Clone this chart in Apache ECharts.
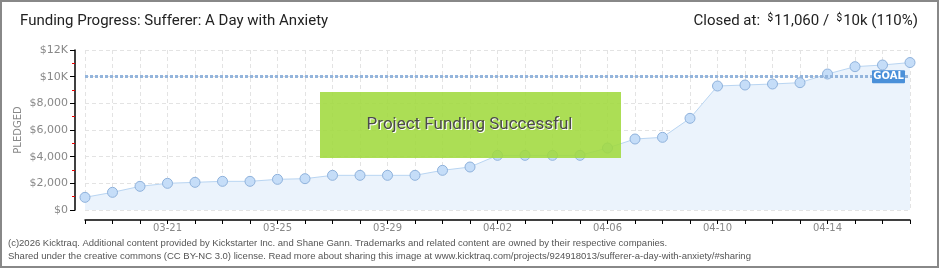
<!DOCTYPE html>
<html><head><meta charset="utf-8">
<script src="https://cdn.jsdelivr.net/npm/echarts@6/dist/echarts.min.js"></script>
<style>html,body{margin:0;padding:0;background:#fff}#c{width:940px;height:270px}</style>
</head><body><div id="c"></div>
<script>
// ---- data ----
const dates = ['03-18','03-19','03-20','03-21','03-22','03-23','03-24','03-25','03-26','03-27','03-28','03-29','03-30','03-31',
  '04-01','04-02','04-03','04-04','04-05','04-06','04-07','04-08','04-09','04-10','04-11','04-12','04-13','04-14','04-15','04-16','04-17'];
const pledged = [950,1325,1775,2000,2075,2150,2150,2300,2350,2600,2600,2600,2600,2975,
  3225,4100,4100,4100,4100,4650,5325,5450,6875,9300,9375,9450,9550,10200,10750,10875,11060];
const goal = 10000;
const yMax = 12000;
const yStep = 2000;
const yName = 'PLEDGED';
const titleText = 'Funding Progress: Sufferer: A Day with Anxiety';
const footer1 = '(c)2026 Kicktraq. Additional content provided by Kickstarter Inc. and Shane Gann. Trademarks and related content are owned by their respective companies.';
const footer2 = 'Shared under the creative commons (CC BY-NC 3.0) license. Read more about sharing this image at www.kicktraq.com/projects/924918013/sufferer-a-day-with-anxiety/#sharing';

const chart = echarts.init(document.getElementById('c'), null, {renderer:'canvas'});
const lblFont = "'DejaVu Sans', sans-serif";
function yFmt(v){
  if (v >= 10000) return '$' + (v/1000) + 'K';
  return '$' + v.toLocaleString('en-US');
}
const option = {
  animation:false,
  backgroundColor:'#fff',
  grid:{left:85, right:30, top:50, bottom:60},
  xAxis:{
    type:'category', data:dates, boundaryGap:false, position:'bottom', offset:10,
    axisLine:{show:true, onZero:false, lineStyle:{color:'#000', width:1.5}},
    axisTick:{show:true, length:4, interval:0, lineStyle:{color:'#000'}},
    axisLabel:{interval:(i)=> (i-3)%4===0, color:'#888', fontSize:10, fontFamily:lblFont, margin:3},
    splitLine:{show:true, interval:0, lineStyle:{color:'#e3e3e3', type:[4,3]}}
  },
  yAxis:{
    type:'value', min:0, max:yMax, interval:yStep, offset:10,
    axisLine:{show:true, lineStyle:{color:'#000', width:1.5}},
    axisTick:{show:true, length:5, lineStyle:{color:'#000'}},
    minorTick:{show:true, splitNumber:2, length:3, lineStyle:{color:'#e00'}},
    axisLabel:{formatter:yFmt, color:'#888', fontSize:11, fontFamily:lblFont, margin:7},
    splitLine:{show:true, lineStyle:{color:'#e3e3e3', type:[4,3]}}
  },
  series:[{
    type:'line', data:pledged,
    symbol:'circle', symbolSize:10, showAllSymbol:true,
    lineStyle:{color:'#b9d5f2', width:1},
    itemStyle:{color:'#c5ddf8', borderColor:'#8fb2dc', borderWidth:1},
    areaStyle:{color:'#ebf3fc', opacity:1},
    markLine:{
      silent:true, symbol:'none',
      lineStyle:{color:'#94b5dc', width:3, type:[3,2]},
      label:{show:false},
      data:[{yAxis:goal}]
    },
    z:2
  }]
};
chart.setOption(option);

const gy = chart.convertToPixel({yAxisIndex:0}, goal);
const gx = chart.convertToPixel({xAxisIndex:0}, dates[dates.length-1]);
const midY = chart.convertToPixel({yAxisIndex:0}, yMax/2);
chart.setOption({
  graphic:[
    {type:'rect', z:0, silent:true, shape:{x:1, y:1, width:937, height:266}, style:{fill:'none', stroke:'#888', lineWidth:2}},
    {type:'text', z:100, left:20, top:14, style:{text:titleText, font:"15px 'Roboto', sans-serif", fill:'#222'}},
    {type:'text', z:100, right:22, top:13, style:{
      text:'{a|Closed at:  }{s|$}{a|11,060 /  }{s|$}{a|10k (110%)}',
      rich:{a:{fontSize:15, fontFamily:'Roboto', fill:'#222', color:'#222'}, s:{fontSize:10, fontFamily:'Roboto', color:'#222', verticalAlign:'top', padding:[0,1,6,0]}}
    }},
    {type:'text', z:100, x:18, y:midY, rotation:Math.PI/2, style:{text:yName, font:"10px 'DejaVu Sans', sans-serif", fill:'#888', align:'center', verticalAlign:'middle'}},
    {type:'rect', z:100, silent:true, shape:{x:320, y:92, width:301, height:66}, style:{fill:'rgba(160,218,62,0.88)'}},
    {type:'text', z:101, x:470.5, y:125.5, style:{text:'Project Funding Successful', font:"17px 'Roboto', sans-serif", fill:'#fff', align:'center', verticalAlign:'middle'}},
    {type:'text', z:102, x:469.5, y:124.5, style:{text:'Project Funding Successful', font:"17px 'Roboto', sans-serif", fill:'#4a4a4a', align:'center', verticalAlign:'middle'}},
    {type:'rect', z:100, shape:{x:gx-38, y:gy-6.5, width:33, height:13, r:1}, style:{fill:'#4a90d9'}},
    {type:'text', z:101, x:gx-21.5, y:gy, style:{text:'GOAL', font:"bold 10px 'DejaVu Sans', sans-serif", fill:'#fff', align:'center', verticalAlign:'middle'}},
    {type:'text', z:100, left:8, top:238, style:{text:footer1, font:"9.5px 'Liberation Sans', sans-serif", fill:'#555'}},
    {type:'text', z:100, left:8, top:251, style:{text:footer2, font:"9.5px 'Liberation Sans', sans-serif", fill:'#555'}}
  ]
});
</script></body></html>
